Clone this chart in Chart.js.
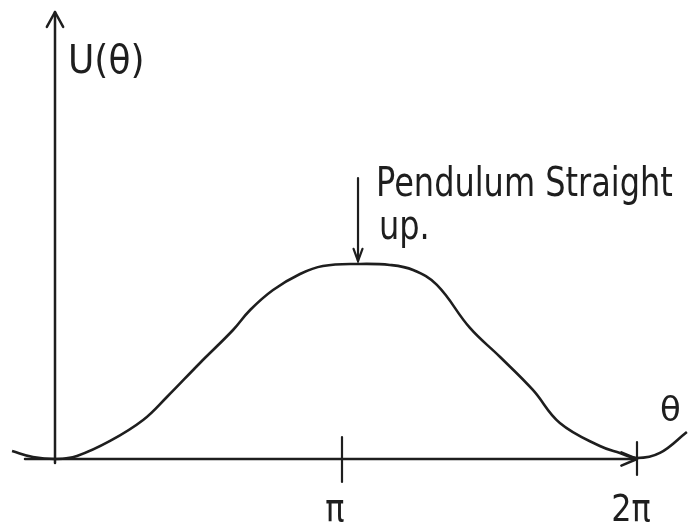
<!DOCTYPE html>
<html>
<head>
<meta charset="utf-8">
<script src="https://cdn.jsdelivr.net/npm/chart.js@4"></script>
<style>
  html, body { margin: 0; padding: 0; background: #fff; }
  #wrap { width: 696px; height: 527px; }
</style>
</head>
<body>
<div id="wrap"><canvas id="c" width="696" height="527"></canvas></div>
<script>
// Potential energy of a pendulum against angle (angle in units of π)
const thetaOverPi = [-0.155, -0.083, 0, 0.069, 0.183, 0.297, 0.379, 0.493, 0.607, 0.666, 0.745, 0.838, 0.917, 1.038, 1.148, 1.228, 1.310, 1.424, 1.528, 1.641, 1.734, 1.872, 1.941, 2.0, 2.079, 2.172];
const energy      = [0.082, 0.021, 0, 0.031, 0.185, 0.400, 0.636, 0.985, 1.323, 1.528, 1.733, 1.897, 1.979, 2.00, 1.990, 1.938, 1.785, 1.344, 1.046, 0.708, 0.369, 0.133, 0.062, 0.01, 0.062, 0.277];
const tickValues  = [1, 2];
const tickLabels  = ['π', '2π'];
const peakTheta   = 1.038;
const peakEnergy  = 2.00;
const yAxisLabel  = 'U(θ)';
const xAxisLabel  = 'θ';
const noteLines   = ['Pendulum Straight', 'up.'];

const INK = '#1e1e1e';

function arrowHead(ctx, tipX, tipY, angle, len, spread) {
  ctx.beginPath();
  ctx.moveTo(tipX + len * Math.cos(angle + spread), tipY + len * Math.sin(angle + spread));
  ctx.lineTo(tipX, tipY);
  ctx.lineTo(tipX + len * Math.cos(angle - spread), tipY + len * Math.sin(angle - spread));
  ctx.stroke();
}

// text drawn a little taller than the font's natural proportions
function tallText(ctx, text, x, y, stretch) {
  ctx.save();
  ctx.translate(x, y);
  ctx.scale(1, stretch);
  ctx.fillText(text, 0, 0);
  ctx.restore();
}

const sketchAxes = {
  id: 'sketchAxes',
  beforeDatasetsDraw(chart) {
    const { ctx, scales: { x, y } } = chart;
    const x0 = x.getPixelForValue(0);
    const y0 = y.getPixelForValue(0);
    const x2 = x.getPixelForValue(2);
    ctx.save();
    ctx.strokeStyle = INK;
    ctx.lineWidth = 2.5;
    ctx.lineCap = 'round';
    ctx.lineJoin = 'round';
    // vertical axis
    ctx.beginPath();
    ctx.moveTo(x0 - 2, y0 + 4);
    ctx.lineTo(x0 - 2, 12);
    ctx.stroke();
    arrowHead(ctx, x0 - 2, 12, Math.PI / 2, 17, 0.5);
    // horizontal axis
    ctx.beginPath();
    ctx.moveTo(25, y0);
    ctx.lineTo(x2, y0);
    ctx.stroke();
    arrowHead(ctx, x2, y0, Math.PI, 17, 0.4);
    // tick marks
    ctx.lineWidth = 2.2;
    tickValues.forEach((v, i) => {
      const px = x.getPixelForValue(v) - (i === 0 ? 5 : 0);
      ctx.beginPath();
      ctx.moveTo(px, y0 - (i === 0 ? 22 : 17));
      ctx.lineTo(px, y0 + (i === 0 ? 23 : 16));
      ctx.stroke();
    });
    ctx.restore();
  },
  afterDatasetsDraw(chart) {
    const { ctx, scales: { x, y } } = chart;
    const x0 = x.getPixelForValue(0);
    const y0 = y.getPixelForValue(0);
    ctx.save();
    ctx.fillStyle = INK;
    ctx.strokeStyle = INK;
    ctx.textBaseline = 'alphabetic';
    // tick labels
    ctx.font = '32px "DejaVu Sans"';
    ctx.textAlign = 'center';
    tickValues.forEach((v, i) => {
      const px = x.getPixelForValue(v);
      tallText(ctx, tickLabels[i], px + (i === 0 ? -12 : -6), y0 + 62, 1.15);
    });
    // axis labels
    ctx.textAlign = 'left';
    ctx.font = '36px "DejaVu Sans"';
    tallText(ctx, yAxisLabel, x0 + 11, 73, 1.1);
    ctx.font = '34px "DejaVu Sans"';
    ctx.fillText(xAxisLabel, 660, 421);
    // note with pointer to the top of the curve
    const px = x.getPixelForValue(peakTheta);
    const py = y.getPixelForValue(peakEnergy);
    ctx.lineWidth = 2.2;
    ctx.lineCap = 'round';
    ctx.beginPath();
    ctx.moveTo(px, 178);
    ctx.lineTo(px, py - 3);
    ctx.stroke();
    arrowHead(ctx, px, py - 3, -Math.PI / 2, 13, 0.35);
    ctx.font = '32px "DejaVu Sans"';
    tallText(ctx, noteLines[0], 376, 196, 1.25);
    tallText(ctx, noteLines[1], 379, 239, 1.25);
    ctx.restore();
  }
};

new Chart(document.getElementById('c'), {
  type: 'line',
  data: {
    datasets: [{
      data: thetaOverPi.map((t, i) => ({ x: t, y: energy[i] })),
      borderColor: INK,
      borderWidth: 2.6,
      pointRadius: 0,
      tension: 0.4,
      fill: false
    }]
  },
  options: {
    responsive: false,
    animation: false,
    devicePixelRatio: 1,
    layout: { padding: 0 },
    plugins: { legend: { display: false }, tooltip: { enabled: false } },
    scales: {
      x: { type: 'linear', display: false, min: -57 / 290, max: (696 - 57) / 290 },
      y: { type: 'linear', display: false, min: -(527 - 459) / 97.5, max: 459 / 97.5 }
    }
  },
  plugins: [sketchAxes]
});
</script>
</body>
</html>
